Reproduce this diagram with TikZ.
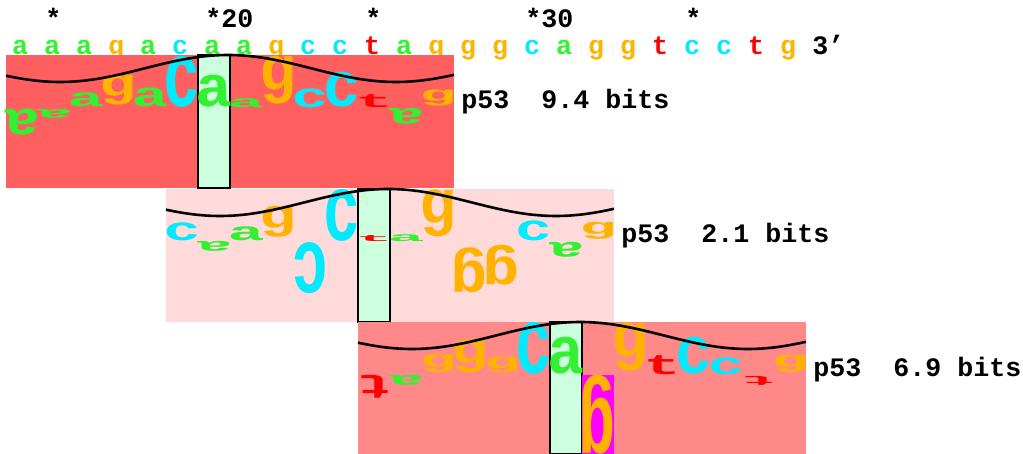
\documentclass[tikz,border=0pt]{standalone}
\usepackage{fontspec}
\setmonofont{Liberation Mono}
\usepackage{graphicx}

\newdimen\pxu \pxu=0.5pt

\definecolor{cola}{RGB}{51,240,51}
\definecolor{colc}{RGB}{0,235,255}
\definecolor{colg}{RGB}{255,179,0}
\definecolor{colt}{RGB}{255,0,0}
\definecolor{panelA}{RGB}{255,95,95}
\definecolor{panelB}{RGB}{255,218,218}
\definecolor{panelC}{RGB}{255,136,136}
\definecolor{zerogreen}{RGB}{204,255,221}
\definecolor{flagmag}{RGB}{255,0,255}

\newcommand{\seqfont}{\fontsize{13.33}{16}\selectfont\ttfamily\bfseries}
\newcommand{\walkfont}{\fontsize{40}{40}\selectfont\ttfamily\bfseries}
\newcommand{\walkletter}[2]{\resizebox*{37\pxu}{#2\pxu}{\walkfont #1}}

\tikzset{
  seq/.style={font=\seqfont, inner sep=0, anchor=base},
  bits/.style={font=\seqfont, inner sep=0, anchor=base west},
  zero/.style={fill=zerogreen, draw=black, line width=0.8pt},
  wave/.style={line width=1.3pt, samples=90},
  walk/.style={inner sep=0, anchor=south},
}

\begin{document}
\begin{tikzpicture}[x=0.5pt, y=-0.5pt]
  \useasboundingbox (0,0) rectangle (1023,454);

  % numbering and sequence
  \foreach \p/\t in {2/*, 7/*20, 12/*, 17/*30, 22/*}
    \node[seq, anchor=base west] (num\p) at ({32*\p-19}, 28) {\t};
  \foreach \l [count=\i] in {a,a,a,g,a,c,a,a,g,c,c,t,a,g,g,g,c,a,g,g,t,c,c,t,g}
    \node[seq, text=col\l] (s\i) at ({32*\i-12}, 55) {\l};
  \node[seq, anchor=base west] (end) at (812, 55) {3’};

  % walker 1
  \fill[panelA] (6,55) rectangle (454,188);
  \draw[zero] (198,55) rectangle (230,188);
  \foreach \p/\l/\y/\h/\r in {1/a/109/26/180, 2/a/109/9/180, 3/a/107/14/0,
      4/g/105/30/0, 5/a/107/19/0, 6/c/108/51/0, 7/a/107/32/0, 8/a/108/9/0,
      9/g/104/48/0, 10/c/108/19/0, 11/c/108/35/0, 12/t/108/13/0,
      13/a/108/16/180, 14/g/106/16/0}
    \node[walk, rotate=\r, text=col\l] (wa\p) at ({32*\p-10}, \y) {\walkletter{\l}{\h}};
  \draw[wave] plot[domain=6:454] (\x, {68.5-13.5*cos(1.0714*(\x-228))});
  \node[bits] (bitsA) at (461,109) {p53\ \ 9.4 bits};

  % walker 2
  \fill[panelB] (166,189) rectangle (614,322);
  \draw[zero] (358,189) rectangle (390,322);
  \foreach \p/\l/\y/\h/\r in {6/c/241/18/0, 7/a/241/10/180, 8/a/241/14/0,
      9/g/238/31/0, 10/c/242/51/180, 11/c/242/52/0, 12/t/242/6/0,
      13/a/242/7/0, 14/g/237/47/0, 15/g/247/45/180, 16/g/245/40/180,
      17/c/241/20/0, 18/a/242/15/180, 19/g/240/17/0}
    \node[walk, rotate=\r, text=col\l] (wb\p) at ({32*\p-10}, \y) {\walkletter{\l}{\h}};
  \draw[wave] plot[domain=166:614] (\x, {202.5-13.5*cos(1.0714*(\x-388))});
  \node[bits] (bitsB) at (621,243) {p53\ \ 2.1 bits};

  % walker 3
  \fill[panelC] (358,322) rectangle (806,454);
  \draw[zero] (550,322) rectangle (582,454);
  \fill[flagmag] (582,375) rectangle (614,454);
  \foreach \p/\l/\y/\h/\r in {12/t/375/23/180, 13/a/375/10/180, 14/g/373/18/0,
      15/g/373/33/0, 16/g/373/16/0, 17/c/375/52/0, 18/a/375/37/0,
      19/g/375/79/180, 20/g/371/48/0, 21/t/375/19/0, 22/c/375/37/0,
      23/c/375/17/0, 24/t/376/9/180, 25/g/373/17/0}
    \node[walk, rotate=\r, text=col\l] (wc\p) at ({32*\p-10}, \y) {\walkletter{\l}{\h}};
  \draw[wave] plot[domain=358:806] (\x, {335.5-13.5*cos(1.0714*(\x-580))});
  \node[bits] (bitsC) at (813,376) {p53\ \ 6.9 bits};
\end{tikzpicture}
\end{document}
